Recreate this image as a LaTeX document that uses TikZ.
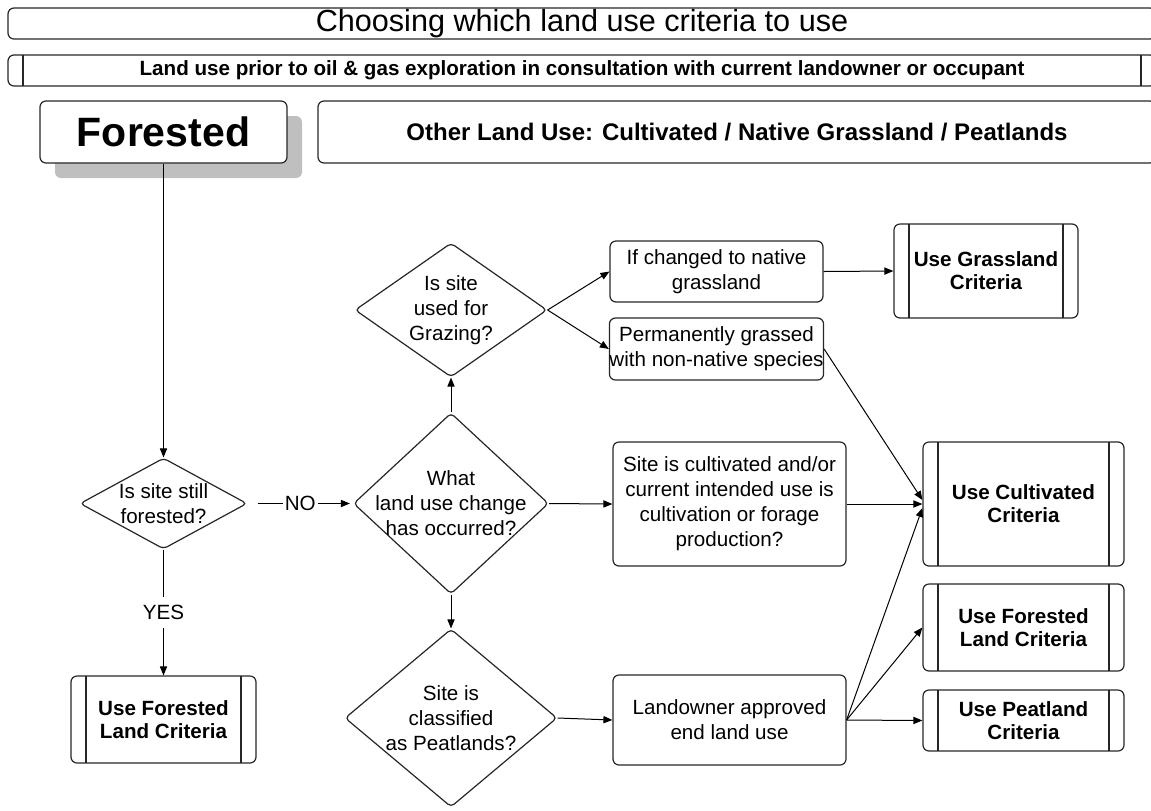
\documentclass[tikz,border=0pt]{standalone}
\usepackage{fontspec}
\setmainfont{Liberation Sans}
\usetikzlibrary{arrows.meta,shapes.geometric,shadows}
\tikzset{
  boxsize/.style 2 args={minimum width=#1*0.5pt,minimum height=#2*0.5pt},
  outline/.style={draw=black!85,line width=0.6pt},
  procbox/.style={outline,rounded corners=3pt},
  critbox/.style={procbox,font=\bfseries\fontsize{10.3}{11.5}\selectfont,
    path picture={\draw [outline]
      ([xshift=7.5pt]path picture bounding box.north west) -- ([xshift=7.5pt]path picture bounding box.south west)
      ([xshift=-7.5pt]path picture bounding box.north east) -- ([xshift=-7.5pt]path picture bounding box.south east);}},
  decision/.style={diamond,outline,rounded corners=2pt},
  flow/.style={black,line width=0.5pt,-{Triangle[length=4.5pt,width=3.6pt]}}
}
\begin{document}
\begin{tikzpicture}[x=0.5pt,y=-0.5pt,
  every node/.style={inner sep=0pt,align=center,font=\fontsize{10.3}{12.5}\selectfont}]
  \useasboundingbox (0,0) rectangle (1151,810);
  \clip (0,0) rectangle (1151,810);
  \node [procbox,boxsize={1148}{31},font=\fontsize{15.3}{18}\selectfont] (title) at (582,23.5) {Choosing which land use criteria to use};
  \node [critbox,boxsize={1148}{31},font=\bfseries\fontsize{10.3}{12}\selectfont] (prior) at (582,70.5) {Land use prior to oil \& gas exploration in consultation with current landowner or occupant};
  \node [procbox,boxsize={247}{62},font=\bfseries\fontsize{20.5}{24}\selectfont,
    drop shadow={shadow xshift=7.5pt,shadow yshift=-7.5pt,fill=black!25,draw=none,opacity=1},fill=white] (forested) at (163.5,132) {Forested};
  \node [procbox,boxsize={838}{62},font=\bfseries\fontsize{12}{14}\selectfont] (otheruse) at (737,132) {Other Land Use: Cultivated / Native Grassland / Peatlands};
  \node [decision,boxsize={167}{91},label={center:Is site still\\forested?}] (still) at (163.5,503.5) {};
  \node [decision,boxsize={195}{181},label={center:What\\land use change\\has occurred?}] (what) at (451,503.5) {};
  \node [decision,boxsize={192}{134},label={center:Is site\\used for\\Grazing?}] (graze) at (451,310) {};
  \node [decision,boxsize={212}{178},label={center:Site is\\classified\\as Peatlands?}] (peat) at (451,718) {};
  \node [procbox,boxsize={213}{61}] (native) at (716.5,271.5) {If changed to native\\grassland};
  \node [procbox,boxsize={213}{62}] (perm) at (716.5,349) {Permanently grassed\\with non-native species};
  \node [procbox,boxsize={233}{124}] (cultiv) at (729.5,504) {Site is cultivated and/or\\current intended use is\\cultivation or forage\\production?};
  \node [procbox,boxsize={233}{90}] (approve) at (729.5,720) {Landowner approved\\end land use};
  \node [critbox,boxsize={184}{94}] (usegrass) at (986,271) {Use Grassland\\Criteria};
  \node [critbox,boxsize={201}{124}] (usecult) at (1023.5,504) {Use Cultivated\\Criteria};
  \node [critbox,boxsize={201}{87}] (usefor) at (1023.5,627.5) {Use Forested\\Land Criteria};
  \node [critbox,boxsize={201}{61}] (usepeat) at (1023.5,720.5) {Use Peatland\\Criteria};
  \node [critbox,boxsize={185}{87}] (useforest) at (163.5,719.5) {Use Forested\\Land Criteria};
  \draw [flow] (forested.south) -- (still.north);
  \draw [flow,shorten <=5pt,shorten >=1.5pt] (still.east) -- node [fill=white,inner sep=1pt] {NO} (what.west);
  \draw [flow] (still.south) -- node [fill=white,inner xsep=1pt,inner ysep=4pt] {YES} (useforest.north);
  \draw [flow] (what.north) -- (graze.south);
  \draw [flow] (what.east) -- (cultiv.west);
  \draw [flow] (what.south) -- (peat.north);
  \draw [flow] (graze.east) -- (native.west);
  \draw [flow] (graze.east) -- (perm.west);
  \draw [flow] (native.east) -- (usegrass.west);
  \draw [flow] (perm.east) -- ([yshift=2pt]usecult.west);
  \draw [flow] (cultiv.east) -- (usecult.west);
  \draw [flow] (peat.east) -- (approve.west);
  \draw [flow] (approve.east) -- ([yshift=-2pt]usecult.west);
  \draw [flow] (approve.east) -- (usefor.west);
  \draw [flow] (approve.east) -- (usepeat.west);
\end{tikzpicture}
\end{document}
